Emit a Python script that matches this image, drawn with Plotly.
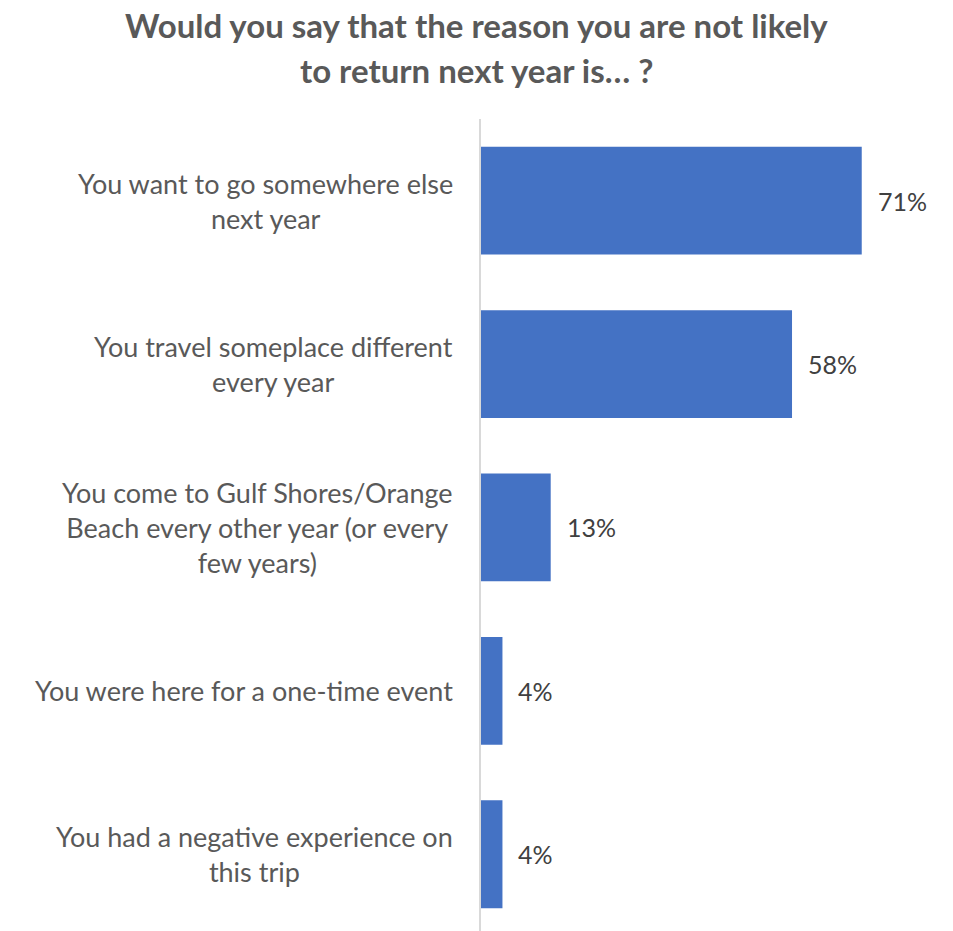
import plotly.graph_objects as go

categories = [
    "You want to go somewhere else<br>next year",
    "You travel someplace different<br>every year",
    "You come to Gulf Shores/Orange<br>Beach every other year (or every<br>few years)",
    "You were here for a one-time event",
    "You had a negative experience on<br>this trip",
]
values = [71, 58, 13, 4, 4]
title_lines = ["Would you say that the reason you are not likely", "to return next year is… ?"]

FONT = "Lato"
TXT = "#595959"
W, H = 953, 931
ML, MR, MT, MB = 481, 43, 119, 0
plot_w = W - ML - MR
plot_h = H - MT - MB

fig = go.Figure(go.Bar(
    x=values, y=list(range(len(categories))), orientation="h",
    marker=dict(color="#4472C4", line=dict(width=0)),
    hoverinfo="skip",
))

annotations = []
for i, (c, v) in enumerate(zip(categories, values)):
    annotations.append(dict(
        x=0, y=i, xref="x", yref="y", text=c, showarrow=False,
        xanchor="right", yanchor="middle", align="center", xshift=-26,
        font=dict(family=FONT, size=27, color=TXT),
    ))
    annotations.append(dict(
        x=v, y=i, xref="x", yref="y", text=f"{v}%", showarrow=False,
        xanchor="left", yanchor="middle", xshift=14,
        font=dict(family=FONT, size=25, color="#404040"),
    ))
for j, line in enumerate(title_lines):
    annotations.append(dict(
        x=(W / 2 - ML) / plot_w, y=1 + (MT - (25 + 45 * j)) / plot_h,
        xref="paper", yref="paper", text=f"<b>{line}</b>",
        showarrow=False, xanchor="center", yanchor="middle",
        font=dict(family=FONT, size=33, color=TXT),
    ))

fig.update_layout(
    width=W, height=H,
    margin=dict(l=ML, r=MR, t=MT, b=MB),
    paper_bgcolor="white", plot_bgcolor="white",
    bargap=0.34,
    showlegend=False,
    xaxis=dict(range=[0, 80], visible=False, fixedrange=True),
    yaxis=dict(range=[4.47, -0.5], showticklabels=False, showgrid=False, zeroline=False,
               showline=True, linecolor="#d9d9d9", linewidth=2, ticks="", fixedrange=True),
    annotations=annotations,
)
fig.write_html("out.html", config={"displayModeBar": False})
